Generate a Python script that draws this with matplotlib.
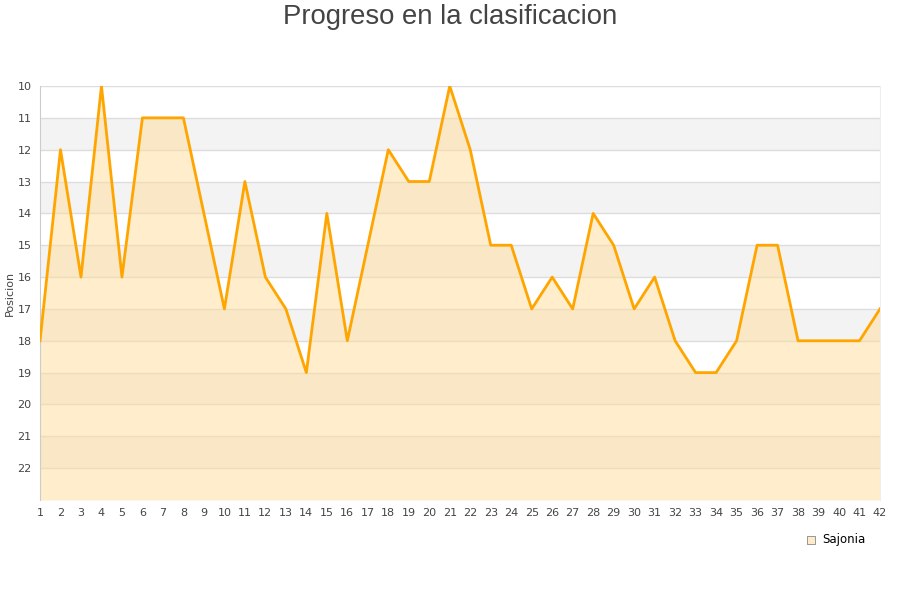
import matplotlib.pyplot as plt

jornadas = list(range(1, 43))
posiciones = [18, 12, 16, 10, 16, 11, 11, 11, 14, 17, 13, 16, 17, 19, 14, 18, 15, 12, 13, 13,
              10, 12, 15, 15, 17, 16, 17, 14, 15, 17, 16, 18, 19, 19, 18, 15, 15, 18, 18, 18,
              18, 17]
equipo = 'Sajonia'

fig = plt.figure(figsize=(9, 6), dpi=100)
ax = fig.add_axes([40 / 900, 1 - 500 / 600, 840 / 900, 414 / 600])

# bandas alternas
for y0 in range(11, 23, 2):
    ax.axhspan(y0, y0 + 1, color='#f3f3f3', zorder=0, lw=0)
for y in range(10, 23):
    ax.axhline(y, color='#dddddd', lw=1, zorder=1)

ax.fill_between(jornadas, posiciones, 23, color='#ffdd99', alpha=0.5, lw=0, zorder=2)
ax.plot(jornadas, posiciones, color='#ffa500', lw=2.0, zorder=3)
ax.scatter([], [], marker='s', s=40, color='#ffebc9', edgecolor='#888888', lw=0.6, label=equipo)

ax.set_xlim(1, 42)
ax.set_ylim(23, 10)
ax.set_yticks(range(10, 23))
ax.set_xticks(jornadas)
ax.tick_params(length=0, labelsize=8, colors='#444444', pad=6)
for s in ['top', 'bottom']:
    ax.spines[s].set_visible(False)
ax.spines['left'].set_color('#cccccc')
ax.spines['right'].set_color('#eeeeee')
ax.set_ylabel('Posicion', fontsize=8, color='#444444', labelpad=2)

fig.text(0.5, 0.993, 'Progreso en la clasificacion', ha='center', va='top',
         fontsize=19.8, color='#444444', family='Liberation Sans')
ax.legend(loc='upper right', bbox_to_anchor=(0.995, -0.055), frameon=False, fontsize=8.5,
          handletextpad=0.4, handlelength=1.0)

fig.savefig('out.png', dpi=100)
